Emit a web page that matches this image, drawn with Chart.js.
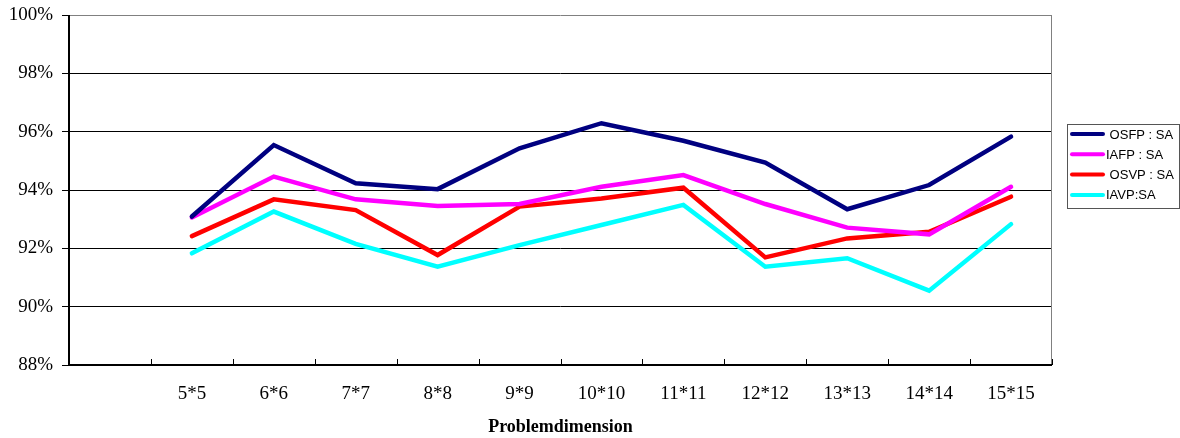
<!DOCTYPE html>
<html>
<head>
<meta charset="utf-8">
<script src="https://cdn.jsdelivr.net/npm/chart.js@4/dist/chart.umd.min.js"></script>
<style>
  html, body { margin: 0; padding: 0; background: #fff; }
  #wrap { width: 1180px; height: 438px; position: relative; }
</style>
</head>
<body>
<div id="wrap"><canvas id="c"></canvas></div>
<script>
// first category is left empty in the original sheet
const categories = ['', '5*5', '6*6', '7*7', '8*8', '9*9', '10*10', '11*11', '12*12', '13*13', '14*14', '15*15'];

const osfpSA = [null, 93.09, 95.54, 94.23, 94.03, 95.43, 96.29, 95.69, 94.94, 93.34, 94.17, 95.83];
const iafpSA = [null, 93.06, 94.46, 93.68, 93.45, 93.52, 94.11, 94.51, 93.52, 92.71, 92.48, 94.11];
const osvpSA = [null, 92.42, 93.68, 93.31, 91.77, 93.43, 93.71, 94.08, 91.69, 92.34, 92.57, 93.77];
const iavpSA = [null, 91.83, 93.26, 92.15, 91.37, 92.11, 92.80, 93.49, 91.37, 91.66, 90.55, 92.83];

const seriesLabels = [' OSFP : SA', 'IAFP : SA', ' OSVP : SA', 'IAVP:SA'];
const seriesColors = ['#000080', '#FF00FF', '#FF0000', '#00FFFF'];

const yMin = 88, yMax = 100, yStep = 2;

const serif = '"Liberation Serif", "Times New Roman", serif';
const sans = '"Liberation Sans", Arial, sans-serif';

// tick marks between categories (drawn inside the plot like Excel) + frame + legend box
const excelBits = {
    id: 'excelBits',
    afterDatasetsDraw(chart) {
        const {ctx, chartArea: a, scales: {x}} = chart;
        ctx.save();
        // right border
        ctx.strokeStyle = '#808080';
        ctx.lineWidth = 1;
        ctx.beginPath();
        ctx.moveTo(a.right - 0.5, a.top);
        ctx.lineTo(a.right - 0.5, a.bottom);
        ctx.stroke();
        // axes
        ctx.strokeStyle = '#000';
        ctx.lineWidth = 2;
        ctx.beginPath();
        ctx.moveTo(a.left, a.top);
        ctx.lineTo(a.left, a.bottom);
        ctx.lineTo(a.right, a.bottom);
        ctx.stroke();
        // category tick marks
        ctx.lineWidth = 1;
        ctx.beginPath();
        for (let i = 0; i <= categories.length; i++) {
            const px = Math.round(x.getPixelForValue(i - 0.5)) + 0.5;
            ctx.moveTo(px, a.bottom);
            ctx.lineTo(px, a.bottom - 6);
        }
        ctx.stroke();
        ctx.restore();
    },
    afterDraw(chart) {
        const {ctx} = chart;
        const bx = 1067.5, by = 124.5, bw = 112, bh = 84;
        ctx.save();
        ctx.fillStyle = '#fff';
        ctx.fillRect(bx, by, bw, bh);
        ctx.strokeStyle = '#555';
        ctx.lineWidth = 1;
        ctx.strokeRect(bx, by, bw, bh);
        ctx.font = '13px ' + sans;
        ctx.textBaseline = 'middle';
        chart.data.datasets.forEach((ds, i) => {
            const ly = 134 + i * 20.3;
            ctx.strokeStyle = ds.borderColor;
            ctx.lineWidth = 4;
            ctx.lineCap = 'round';
            ctx.beginPath();
            ctx.moveTo(1072, ly);
            ctx.lineTo(1103, ly);
            ctx.stroke();
            ctx.fillStyle = '#000';
            ctx.fillText(ds.label, 1106, ly + 1);
        });
        ctx.restore();
    }
};

new Chart(document.getElementById('c'), {
    type: 'line',
    data: {
        labels: categories,
        datasets: [osfpSA, iafpSA, osvpSA, iavpSA].map((d, i) => ({
            label: seriesLabels[i],
            data: d,
            borderColor: seriesColors[i],
            backgroundColor: seriesColors[i],
            borderWidth: 4.5,
            pointRadius: 0,
            tension: 0,
            borderCapStyle: 'round',
            borderJoinStyle: 'miter'
        }))
    },
    options: {
        responsive: true,
        maintainAspectRatio: false,
        animation: false,
        layout: { padding: { left: 0, right: 128, top: 15, bottom: 0 } },
        plugins: {
            legend: { display: false },
            tooltip: { enabled: false }
        },
        scales: {
            x: {
                offset: true,
                grid: { display: false, drawTicks: false },
                border: { display: false },
                ticks: {
                    color: '#000',
                    font: { family: serif, size: 19 },
                    padding: 18,
                    maxRotation: 0,
                    autoSkip: false
                },
                title: {
                    display: true,
                    text: 'Problemdimension',
                    color: '#000',
                    font: { family: serif, size: 18, weight: 'bold' },
                    padding: { top: 14, bottom: 0 }
                },
                afterFit: (s) => { s.height = 73; s.paddingLeft = 0; s.paddingRight = 0; }
            },
            y: {
                min: yMin,
                max: yMax,
                grid: {
                    color: (c) => (c.tick && c.tick.value === yMax) ? '#808080' : '#000',
                    lineWidth: 1,
                    tickLength: 7,
                    tickColor: '#000'
                },
                border: { display: false },
                ticks: {
                    stepSize: yStep,
                    color: '#000',
                    padding: 9,
                    font: { family: serif, size: 19 },
                    callback: (v) => v + '%'
                },
                afterFit: (s) => { s.width = 69; s.paddingTop = 0; s.paddingBottom = 0; }
            }
        }
    },
    plugins: [excelBits]
});
</script>
</body>
</html>
